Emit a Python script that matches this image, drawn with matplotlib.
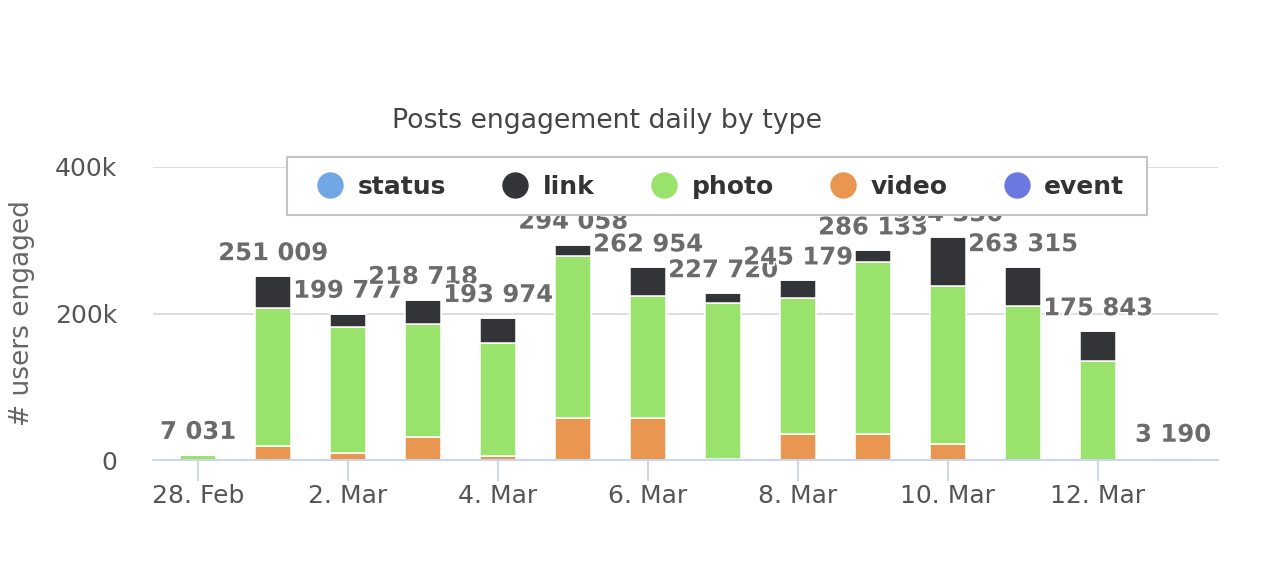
import numpy as np
import matplotlib
matplotlib.use('Agg')
import matplotlib.pyplot as plt
from matplotlib.lines import Line2D
from matplotlib.patches import Rectangle
import matplotlib.patheffects as pe

# days 28 Feb .. 13 Mar
days = ['28. Feb', '1. Mar', '2. Mar', '3. Mar', '4. Mar', '5. Mar', '6. Mar',
        '7. Mar', '8. Mar', '9. Mar', '10. Mar', '11. Mar', '12. Mar', '13. Mar']
status = [0, 0, 0, 0, 0, 0, 0, 0, 0, 0, 0, 0, 0, 0]
link = [0, 43009, 17777, 32718, 33974, 16058, 38954, 12720, 24179, 16133, 66330, 53315, 40843, 0]
photo = [7031, 189000, 173000, 154000, 154000, 221000, 167000, 214000, 186000, 235000, 216000, 210000, 135000, 0]
video = [0, 19000, 9000, 32000, 6000, 57000, 57000, 1000, 35000, 35000, 22000, 0, 0, 3190]
event = [0, 0, 0, 0, 0, 0, 0, 0, 0, 0, 0, 0, 0, 0]

series_names = ['status', 'link', 'photo', 'video', 'event']
colors = {'status': '#72a6e4', 'link': '#333438', 'photo': '#99e26b',
          'video': '#e89650', 'event': '#6b78e0'}

W, H = 1267, 573
fig = plt.figure(figsize=(W / 100, H / 100), dpi=100)
ax = fig.add_axes([153 / W, 1 - 460 / H, 1065 / W, 293 / H])

x = np.arange(len(days))
width = 0.467
data = {'status': status, 'link': link, 'photo': photo, 'video': video, 'event': event}

# highcharts stacks the first series on top
bottom = np.zeros(len(days))
for name in reversed(series_names):
    vals = np.array(data[name], dtype=float)
    ax.bar(x, vals, width, bottom=bottom, color=colors[name],
           edgecolor='white', linewidth=1.1, zorder=2)
    bottom += vals

totals = bottom
for xi, t in zip(x, totals):
    label = '{:,}'.format(int(t)).replace(',', ' ')
    ax.annotate(label, (xi, t), xytext=(0, 11.5), textcoords='offset points',
                ha='center', va='baseline', fontsize=17.5, fontweight='bold',
                color='#6b6b6b', zorder=3,
                path_effects=[pe.withStroke(linewidth=2.5, foreground='white')])

ax.set_xlim(-0.6, 13.6)
ax.set_ylim(0, 400000)
ax.set_yticks([0, 200000, 400000])
ax.set_yticklabels(['0', '200k', '400k'])
ax.set_xticks(x[::2])
ax.set_xticklabels(days[::2])

ax.grid(axis='y', color='#dedede', linewidth=1.4, zorder=0)
ax.set_axisbelow(True)
for s in ['top', 'right', 'left']:
    ax.spines[s].set_visible(False)
ax.spines['bottom'].set_color('#ccd6eb')
ax.spines['bottom'].set_linewidth(1.5)
ax.spines['bottom'].set_zorder(4)

ax.tick_params(axis='y', length=0, pad=26, labelsize=18, labelcolor='#555555')
ax.tick_params(axis='x', length=15, width=1.4, color='#ccd6eb', pad=2,
               labelsize=18, labelcolor='#555555')

ax.set_ylabel('# users engaged', fontsize=19, color='#666666')
ax.yaxis.set_label_coords(-118 / 1065, 0.5)

fig.text(607 / W, 1 - 121 / H, 'Posts engagement daily by type',
         ha='center', va='center', fontsize=19.3, color='#444444')

# legend box (white, covers labels behind it like the original)
box = Rectangle((287 / W, 1 - 215 / H), 860 / W, 58 / H, transform=fig.transFigure,
                facecolor='white', edgecolor='#c4c4c4', linewidth=1.5,
                clip_on=False, zorder=5)
ax.add_patch(box)

handles = [Line2D([], [], marker='o', linestyle='none', markersize=18,
                  markerfacecolor=colors[n], markeredgecolor=colors[n]) for n in series_names]
leg = ax.legend(handles, series_names, ncol=5, loc='center',
                bbox_to_anchor=(721 / W, 1 - 187 / H), bbox_transform=fig.transFigure,
                frameon=False, prop={'size': 18, 'weight': 'bold'}, handlelength=1.0,
                handletextpad=0.6, columnspacing=2.27, borderpad=0.3)
leg.set_zorder(6)
for t in leg.get_texts():
    t.set_color('#333333')

fig.savefig('out.png', dpi=100)
